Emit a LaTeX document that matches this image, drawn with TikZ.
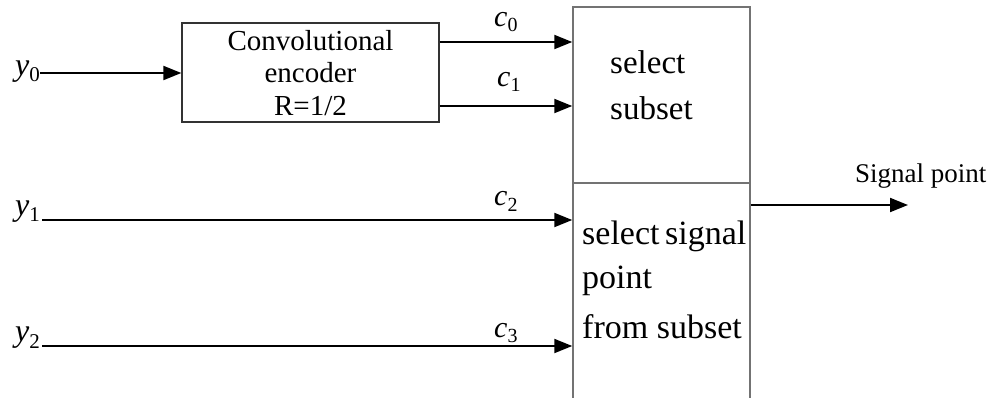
\documentclass[tikz,border=0pt]{standalone}
\usepackage{fontspec}
\setmainfont{Liberation Serif}
\usetikzlibrary{arrows.meta}
% font size helper and subscripted italic symbol
\newcommand\fsz[1]{\fontsize{#1}{#1}\selectfont}
\newcommand\symsub[5]{{\fsz{#1}\textit{#3}}\raisebox{-#5pt}{\fsz{#2}#4}}
\begin{document}
\begin{tikzpicture}[x=1pt,y=-1pt,
  blk/.style={draw=black!55, line width=1.5pt, rectangle, inner sep=0pt},
  encblk/.style={blk, draw=black!80, line width=1.3pt},
  arr/.style={draw=black, line width=2pt, -{Triangle[length=18pt,width=14pt]}},
  txt/.style={inner sep=0pt, anchor=base west},
  ctxt/.style={inner sep=0pt, anchor=base},
  ylab/.style={inner sep=0pt, anchor=base east},
]
\clip (0,0) rectangle (996,397);

% blocks
\node[encblk, minimum width=257pt, minimum height=99pt] (enc) at (310.5,72.5) {};
\node[blk, minimum width=177pt, minimum height=176pt] (sel) at (661.5,95) {};
\node[blk, minimum width=177pt, minimum height=240pt] (sig) at (661.5,303) {};

% block texts
\node[ctxt, font=\fsz{29}] (enc1) at (310.5,50) {Convolutional};
\node[ctxt, font=\fsz{29}] (enc2) at (310.5,82) {encoder};
\node[ctxt, font=\fsz{29}] (enc3) at (310.5,115) {R=1/2};
\node[txt, font=\fsz{33}] (sel1) at (610,73) {select};
\node[txt, font=\fsz{33}] (sel2) at (610,119) {subset};
\node[txt, font=\fsz{34}] (sig1) at (582,244) {select\hspace{-3pt} signal};
\node[txt, font=\fsz{34}] (sig2) at (582,288) {point};
\node[txt, font=\fsz{34}] (sig3) at (582,338) {from subset};

% inputs
\node[ylab] (y0) at (40,75.5) {\symsub{32}{21}{y}{0}{6}};
\node[ylab] (y1) at (40,215) {\symsub{32}{21}{y}{1}{6}};
\node[ylab] (y2) at (40,341) {\symsub{32}{21}{y}{2}{7}};
\coordinate (y0in) at (40,73);
\coordinate (y1in) at (42,220);
\coordinate (y2in) at (42,346);

% code bit labels
\node[txt] (c0) at (494,26) {\symsub{30}{20}{c}{0}{5}};
\node[txt] (c1) at (497,86) {\symsub{30}{20}{c}{1}{5}};
\node[txt] (c2) at (494,205) {\symsub{30}{20}{c}{2}{6}};
\node[txt] (c3) at (494,337) {\symsub{30}{20}{c}{3}{5}};

% connectors
\draw[arr] (y0in) -- (y0in -| enc.west);
\draw[arr] (enc.east |- 0,42) -- (sel.west |- 0,42);
\draw[arr] (enc.east |- 0,106) -- (sel.west |- 0,106);
\draw[arr] (y1in) -- (y1in -| sig.west);
\draw[arr] (y2in) -- (y2in -| sig.west);

% output
\coordinate (out) at (908,205);
\draw[arr] (out -| sig.east) -- (out);
\node[txt, font=\fsz{27}] (outlab) at (855,182) {Signal point};
\end{tikzpicture}
\end{document}
